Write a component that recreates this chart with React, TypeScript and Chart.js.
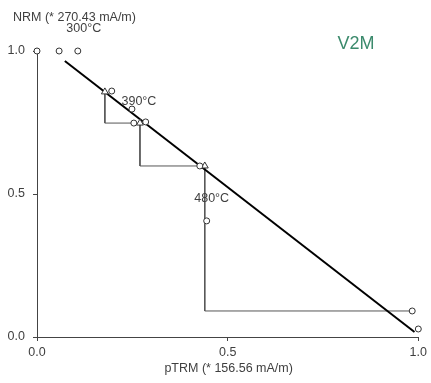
import React, { useEffect, useRef } from "react";
import { Chart, registerables } from "chart.js";

Chart.register(...registerables);

// Arai plot data (normalised)
const pTRM = [0, 0.058, 0.107, 0.196, 0.249, 0.254, 0.285, 0.427, 0.445, 0.984, 1.0];
const NRM = [1.0, 1.0, 1.0, 0.86, 0.797, 0.748, 0.752, 0.598, 0.406, 0.091, 0.028];

// pTRM checks (triangles) and the step they refer to
const checkPTRM = [0.178, 0.27, 0.44];
const checkNRM = [0.857, 0.748, 0.598];
const checkTarget = [5, 7, 9];

// best-fit line end points
const fitX = [0.073, 0.99];
const fitY = [0.965, 0.0175];

const tempLabels = ["300°C", "390°C", "480°C"];
const tempIndex = [2, 4, 8];

const yTicks = [0, 0.5, 1.0];
const xTicks = [0, 0.5, 1.0];

const yTitle = "NRM (* 270.43 mA/m)";
const xTitle = "pTRM (* 156.56 mA/m)";
const specimen = "V2M";

const FONT = "'Liberation Sans', Arial, sans-serif";
const TEXT = "#3f3f3f";
const AXIS = "#444444";

export default function App() {
  const ref = useRef<HTMLCanvasElement | null>(null);

  useEffect(() => {
    if (!ref.current) return;
    Chart.defaults.font.family = FONT;
    Chart.defaults.font.size = 12;

    const circles = pTRM.map((x, i) => ({ x, y: NRM[i] }));
    const triangles = checkPTRM.map((x, i) => ({ x, y: checkNRM[i] }));
    const checkLines = checkPTRM.map((x, i) => {
      const t = checkTarget[i];
      return {
        type: "line" as const,
        data: [
          { x, y: checkNRM[i] },
          { x, y: NRM[t] },
          { x: pTRM[t], y: NRM[t] },
        ],
        borderColor: "#555555",
        borderWidth: 1,
        pointRadius: 0,
        showLine: true,
        fill: false,
        tension: 0,
        clip: false as any,
        order: 3,
      };
    });

    const textPlugin = {
      id: "texts",
      afterDatasetsDraw(chart: any) {
        const ctx = chart.ctx;
        const xs = chart.scales.x;
        const ys = chart.scales.y;
        ctx.save();
        ctx.fillStyle = TEXT;
        ctx.font = `12.5px ${FONT}`;
        ctx.textBaseline = "middle";
        ctx.textAlign = "left";
        ctx.fillText(yTitle, 13, 18);
        ctx.textAlign = "center";
        ctx.fillText(xTitle, (xs.left + xs.right) / 2 + 1, 369);
        const offs = [
          [6, -22],
          [7, -8],
          [5, -22],
        ];
        tempLabels.forEach((t, i) => {
          const k = tempIndex[i];
          const px = xs.getPixelForValue(pTRM[k]);
          const py = ys.getPixelForValue(NRM[k]);
          ctx.fillText(t, px + offs[i][0], py + offs[i][1]);
        });
        ctx.fillStyle = "#3b8a6c";
        ctx.font = `18px ${FONT}`;
        ctx.fillText(specimen, 356, 44);
        ctx.restore();
      },
    };

    const chart = new Chart(ref.current, {
      type: "scatter",
      data: {
        datasets: [
          {
            type: "line",
            data: fitX.map((x, i) => ({ x, y: fitY[i] })),
            borderColor: "#000000",
            borderWidth: 2,
            pointRadius: 0,
            showLine: true,
            fill: false,
            clip: false as any,
            order: 2,
          } as any,
          ...checkLines,
          {
            data: triangles,
            pointStyle: "triangle",
            pointRadius: 4,
            backgroundColor: "#ffffff",
            borderColor: "#333333",
            borderWidth: 1,
            clip: false as any,
            order: 1,
          },
          {
            data: circles,
            pointStyle: "circle",
            pointRadius: 3,
            backgroundColor: "#ffffff",
            borderColor: "#333333",
            borderWidth: 1,
            clip: false as any,
            order: 0,
          },
        ],
      },
      options: {
        responsive: false,
        animation: false,
        layout: { padding: { left: 0, top: 51, right: 12, bottom: 0 } },
        plugins: {
          legend: { display: false },
          tooltip: { enabled: false },
          title: { display: false },
        },
        scales: {
          x: {
            type: "linear",
            min: 0,
            max: 1,
            afterFit: (s: any) => {
              s.height = 46;
            },
            afterBuildTicks: (s: any) => {
              s.ticks = xTicks.map((v) => ({ value: v }));
            },
            ticks: {
              color: TEXT,
              padding: 4,
              font: { size: 12.5 },
              callback: (v: any) => Number(v).toFixed(1),
            },
            grid: {
              drawOnChartArea: false,
              drawTicks: true,
              tickLength: 4,
              color: AXIS,
            },
            border: { display: true, color: AXIS, width: 1 },
          },
          y: {
            type: "linear",
            min: 0,
            max: 1,
            afterFit: (s: any) => {
              s.width = 37;
            },
            afterBuildTicks: (s: any) => {
              s.ticks = yTicks.map((v) => ({ value: v }));
            },
            ticks: {
              color: TEXT,
              padding: 8,
              font: { size: 12.5 },
              callback: (v: any) => Number(v).toFixed(1),
            },
            grid: {
              drawOnChartArea: false,
              drawTicks: true,
              tickLength: 4,
              color: AXIS,
            },
            border: { display: true, color: AXIS, width: 1 },
          },
        },
      },
      plugins: [textPlugin],
    } as any);

    return () => chart.destroy();
  }, []);

  return (
    <div style={{ position: "absolute", left: 0, top: 0, width: 431, height: 383, background: "#fff" }}>
      <canvas ref={ref} width={431} height={383} style={{ width: 431, height: 383, display: "block" }} />
    </div>
  );
}
